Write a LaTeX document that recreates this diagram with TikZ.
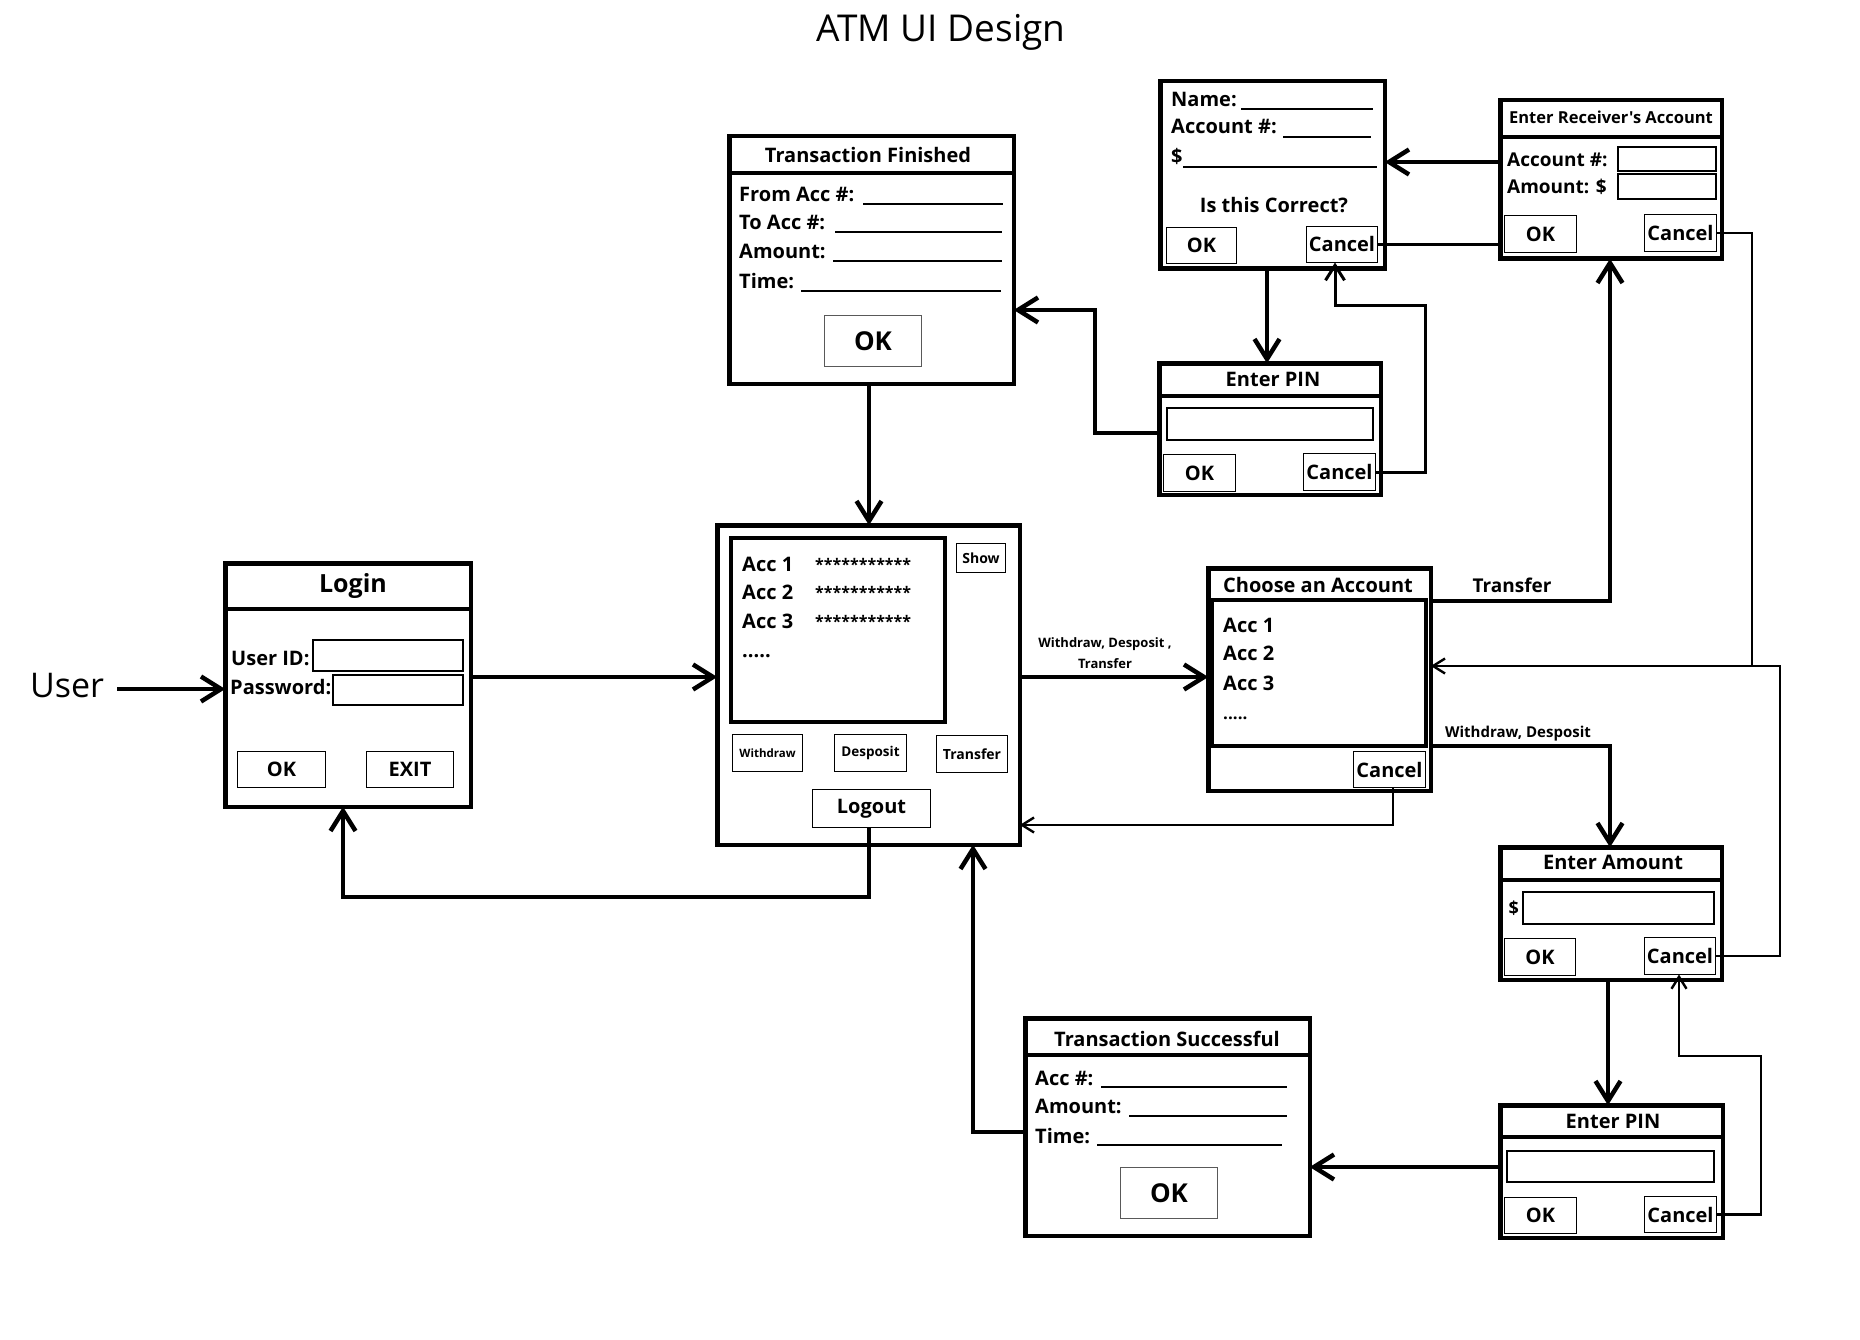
\documentclass[tikz,border=0pt]{standalone}
\usepackage{fontspec}
\setmainfont{Open Sans}[Ligatures=TeXOff]
\usetikzlibrary{arrows.meta}
\newcommand\fsz[1]{\fontsize{#1pt}{#1pt}\selectfont}
\tikzset{
  win/.style={draw, line width=4.5pt, inner sep=0pt, outer sep=0pt},
  hsep/.style={line width=4.5pt},
  listbox/.style={line width=3.5pt},
  btn/.style={draw, line width=1.3pt, inner sep=0pt, outer sep=0pt, font=\bfseries\fsz{20}},
  fld/.style={line width=1.3pt},
  lbl/.style={anchor=base west, inner sep=0pt, font=\bfseries\fsz{20}},
  ttl/.style={anchor=base, inner sep=0pt, font=\bfseries\fsz{20}},
  uline/.style={line width=1.2pt},
  bigarr/.style={line width=4.5pt, line join=miter, -{Straight Barb[length=20pt,width=25pt]}},
  midarr/.style={line width=3pt, -{Straight Barb[length=15pt,width=19pt]}},
  thinarr/.style={line width=2.4pt, -{Straight Barb[length=12pt,width=15pt]}},
  thinline/.style={line width=2.6pt},
}
\begin{document}
\begin{tikzpicture}[x=1pt,y=-1pt]
\fill[white] (0,0) rectangle (1860,1340);
\useasboundingbox (0,0) rectangle (1860,1340);

% title and user
\node[anchor=base, inner sep=0pt, font=\fsz{37}] (title) at (941,42) {ATM UI Design};
\node[anchor=base west, inner sep=0pt, font=\fsz{34}] (user) at (30,697) {User};
\coordinate (ustart) at (117,689);

% ---------------- windows ----------------
\node[win, minimum width=245.5pt, minimum height=243.5pt] (login) at (348,685) {};
\node[win, minimum width=302.5pt, minimum height=319.5pt] (main) at (868.5,685) {};
\node[win, minimum width=284.5pt, minimum height=247.5pt] (tf) at (871.5,260) {};
\node[win, minimum width=224.5pt, minimum height=187.5pt] (conf) at (1272.5,175) {};
\node[win, minimum width=221.5pt, minimum height=131.5pt] (pinA) at (1270,429) {};
\node[win, minimum width=221.5pt, minimum height=158.5pt] (recv) at (1611,179.5) {};
\node[win, minimum width=222.5pt, minimum height=222.5pt] (choose) at (1319.5,679.5) {};
\node[win, minimum width=221.5pt, minimum height=132.5pt] (amount) at (1611,913.5) {};
\node[win, minimum width=222.5pt, minimum height=132.5pt] (pinB) at (1611.5,1171.5) {};
\node[win, minimum width=284.5pt, minimum height=217.5pt] (ts) at (1167.5,1127) {};

% ---------------- Login ----------------
\draw[hsep] (login.west |- 0,609) -- (login.east |- 0,609);
\node[ttl, font=\bfseries\fsz{25}] (logintitle) at (353,592) {Login};
\node[lbl] (uid) at (231,665) {User ID:};
\draw[fld] (313,640) rectangle (463,671);
\node[lbl] (pwd) at (230,694) {Password:};
\draw[fld] (333,675) rectangle (463,705);
\node[btn, minimum width=88pt, minimum height=36pt] (loginok) at (281.5,769.5) {OK};
\node[btn, minimum width=87pt, minimum height=36pt] (loginexit) at (410,769.5) {EXIT};

% ---------------- Main ----------------
\draw[listbox] (731,538) rectangle (945,722);
\node[lbl] (macc1) at (742,571) {Acc 1};
\node[lbl] (macc2) at (742,599) {Acc 2};
\node[lbl] (macc3) at (742,628) {Acc 3};
\node[lbl, font=\bfseries\fsz{16}] (mst1) at (815,570) {***********};
\node[lbl, font=\bfseries\fsz{16}] (mst2) at (815,598) {***********};
\node[lbl, font=\bfseries\fsz{16}] (mst3) at (815,627) {***********};
\node[lbl] (mdots) at (742,657) {.....};
\node[btn, font=\bfseries\fsz{14}, minimum width=49pt, minimum height=29pt] (show) at (981,558) {Show};
\node[btn, font=\bfseries\fsz{11.5}, minimum width=70pt, minimum height=37pt] (wdr) at (767.5,753) {Withdraw};
\node[btn, font=\bfseries\fsz{13.5}, minimum width=72pt, minimum height=37pt] (dep) at (870.5,753) {Desposit};
\node[btn, font=\bfseries\fsz{14}, minimum width=71pt, minimum height=37pt] (trf) at (972,754) {Transfer};
\node[btn, minimum width=118pt, minimum height=38pt] (logout) at (871.5,808.5) {Logout};

% ---------------- Transaction Finished ----------------
\draw[hsep] (tf.west |- 0,173) -- (tf.east |- 0,173);
\node[ttl] (tftitle) at (868,163) {Transaction Finished};
\node[lbl] (tf1) at (739,202) {From Acc \#:};
\node[lbl] (tf2) at (739,230) {To Acc \#:};
\node[lbl] (tf3) at (739,259) {Amount:};
\node[lbl] (tf4) at (739,289) {Time:};
\draw[uline] (863,204) -- (1003,204);
\draw[uline] (835,232) -- (1002,232);
\draw[uline] (833,261) -- (1002,261);
\draw[uline] (801,291) -- (1001,291);
\node[btn, draw=black!65, font=\bfseries\fsz{26}, minimum width=97pt, minimum height=51pt] (tfok) at (873,341) {OK};

% ---------------- Confirm ----------------
\node[lbl] (cf1) at (1171,107) {Name:};
\node[lbl] (cf2) at (1171,134) {Account \#:};
\node[lbl] (cf3) at (1171,164) {\$};
\draw[uline] (1241,109) -- (1373,109);
\draw[uline] (1283,137) -- (1371,137);
\draw[uline] (1183,167) -- (1377,167);
\node[ttl] (cfq) at (1274,213) {Is this Correct?};
\node[btn, minimum width=70pt, minimum height=36pt] (cfok) at (1201.5,245.5) {OK};
\node[btn, minimum width=71pt, minimum height=36pt] (cfcancel) at (1342,244.5) {Cancel};

% ---------------- Enter PIN (top) ----------------
\draw[hsep] (pinA.west |- 0,396) -- (pinA.east |- 0,396);
\node[ttl] (pinAtitle) at (1273,386) {Enter PIN};
\draw[fld] (1167,408) rectangle (1373,440);
\node[btn, minimum width=72pt, minimum height=37pt] (pAok) at (1199.5,473) {OK};
\node[btn, minimum width=72pt, minimum height=37pt] (pAcancel) at (1339.5,472) {Cancel};

% ---------------- Receiver ----------------
\draw[hsep] (recv.west |- 0,137) -- (recv.east |- 0,137);
\node[ttl, font=\bfseries\fsz{16.5}] (recvtitle) at (1611,124) {Enter Receiver's Account};
\node[lbl, font=\bfseries\fsz{19}] (rv1) at (1507,167) {Account \#:};
\draw[fld] (1618,147) rectangle (1716,171);
\node[lbl, font=\bfseries\fsz{19}] (rv2) at (1507,194) {Amount: \$};
\draw[fld] (1618,174) rectangle (1716,199);
\node[btn, minimum width=72pt, minimum height=37pt] (rok) at (1540.5,234) {OK};
\node[btn, minimum width=72pt, minimum height=37pt] (rcancel) at (1680.5,233) {Cancel};

% ---------------- Choose ----------------
\node[ttl] (chtitle) at (1318,592) {Choose an Account};
\draw[listbox] (1212,600) rectangle (1426,746);
\node[lbl] (ca1) at (1223,632) {Acc 1};
\node[lbl] (ca2) at (1223,660) {Acc 2};
\node[lbl] (ca3) at (1223,690) {Acc 3};
\node[lbl, font=\bfseries\fsz{17}] (cdots) at (1223,719) {.....};
\node[btn, minimum width=72pt, minimum height=36pt] (chcancel) at (1389.5,769.5) {Cancel};

% ---------------- Enter Amount ----------------
\draw[hsep] (amount.west |- 0,880) -- (amount.east |- 0,880);
\node[ttl] (amtitle) at (1613,869) {Enter Amount};
\node[lbl, font=\bfseries\fsz{18}] (amd) at (1508.5,914) {\$};
\draw[fld] (1523,892) rectangle (1714,924);
\node[btn, minimum width=71pt, minimum height=37pt] (aok) at (1540,957) {OK};
\node[btn, minimum width=71pt, minimum height=37pt] (acancel) at (1680,956) {Cancel};

% ---------------- Enter PIN (bottom) ----------------
\draw[hsep] (pinB.west |- 0,1137) -- (pinB.east |- 0,1137);
\node[ttl] (pinBtitle) at (1613,1128) {Enter PIN};
\draw[fld] (1507,1151) rectangle (1714,1182);
\node[btn, minimum width=72pt, minimum height=36pt] (pBok) at (1540.5,1215.5) {OK};
\node[btn, minimum width=72pt, minimum height=36pt] (pBcancel) at (1680.5,1214.5) {Cancel};

% ---------------- Transaction Successful ----------------
\draw[hsep] (ts.west |- 0,1055) -- (ts.east |- 0,1055);
\node[ttl] (tstitle) at (1167,1046) {Transaction Successful};
\node[lbl] (ts1) at (1035,1085) {Acc \#:};
\node[lbl] (ts2) at (1035,1113) {Amount:};
\node[lbl] (ts3) at (1035,1143) {Time:};
\draw[uline] (1101,1087) -- (1287,1087);
\draw[uline] (1129,1116) -- (1287,1116);
\draw[uline] (1097,1145) -- (1282,1145);
\node[btn, draw=black!65, font=\bfseries\fsz{26}, minimum width=97pt, minimum height=51pt] (tsok) at (1169,1193) {OK};

% ---------------- edge labels ----------------
\node[ttl, font=\bfseries\fsz{13}] (e1a) at (1105,647) {Withdraw, Desposit ,};
\node[ttl, font=\bfseries\fsz{13}] (e1b) at (1105,668) {Transfer};
\node[ttl, font=\bfseries\fsz{19}] (e2) at (1512,592) {Transfer};
\node[ttl, font=\bfseries\fsz{15}] (e3) at (1518,737) {Withdraw, Desposit};

% ---------------- connectors ----------------
\draw[bigarr] (ustart) -- (login.west |- ustart);
\draw[bigarr] (login.east |- 0,677) -- (main.west |- 0,677);
\draw[bigarr] (tf.south -| 869,0) -- (main.north -| 869,0);
\draw[bigarr] (main.east |- 0,677) -- (choose.west |- 0,677);
\draw[bigarr] (logout.south -| 869,0) -- (869,897) -- (343,897) -- (login.south -| 343,0);
\draw[bigarr] (ts.west |- 0,1132) -- (973,1132) -- (main.south -| 973,0);
\draw[thinarr] (chcancel.south -| 1393,0) -- (1393,825) -- (main.east |- 0,825);
\draw[bigarr] (pinA.west |- 0,433) -- (1095,433) -- (1095,310) -- (tf.east |- 0,310);
\draw[bigarr] (conf.south -| 1267,0) -- (pinA.north -| 1267,0);
\draw[bigarr] (recv.west |- 0,162) -- (conf.east |- 0,162);
\draw[thinline] (cfcancel.east) -- (recv.west |- cfcancel.east);
\draw[midarr] (pAcancel.east) -- (1425,472) -- (1425,305) -- (1335,305) -- (cfcancel.south -| 1335,0);
\draw[thinline] (rcancel.east) -- (1752,233) -- (1752,666);
\draw[thinarr] (acancel.east) -- (1780,956) -- (1780,666) -- (choose.east |- 0,666);
\draw[bigarr] (choose.east |- 0,601) -- (1610,601) -- (recv.south -| 1610,0);
\draw[bigarr] (choose.east |- 0,746) -- (1610,746) -- (amount.north -| 1610,0);
\draw[bigarr] (amount.south -| 1608,0) -- (pinB.north -| 1608,0);
\draw[thinarr] (pBcancel.east) -- (1761,1214.5) -- (1761,1056) -- (1679,1056) -- (acancel.south -| 1679,0);
\draw[bigarr] (pinB.west |- 0,1167) -- (ts.east |- 0,1167);
\end{tikzpicture}
\end{document}
